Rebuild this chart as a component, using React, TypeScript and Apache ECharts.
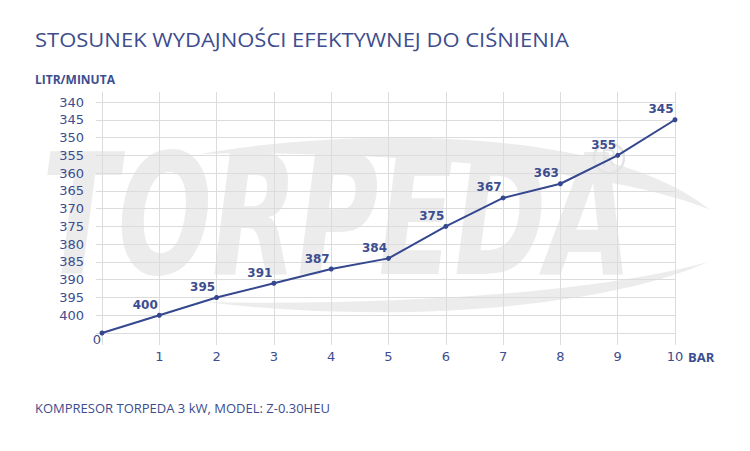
import React, { useEffect, useRef } from "react";
import * as echarts from "echarts";

const pressures = [0, 1, 2, 3, 4, 5, 6, 7, 8, 9, 10];
const flows = [405, 400, 395, 391, 387, 384, 375, 367, 363, 355, 345];
const titleText = "STOSUNEK WYDAJNOŚCI EFEKTYWNEJ DO CIŚNIENIA";
const yName = "LITR/MINUTA";
const xName = "BAR";
const footer = "KOMPRESOR TORPEDA 3 kW, MODEL: Z-0.30HEU";

const NAVY = "#34478f";
const TEXT = "#3d4d8e";
const GRID = "#dcdcdc";
const WM = "#ececec";
const NUMFONT = "DejaVu Sans";

echarts.graphic.registerShape(
  "swooshTop",
  echarts.graphic.extendPath(
    "M200 154 C 360 126, 610 128, 710 210 C 620 172, 400 150, 200 154 Z",
    {}
  )
);
echarts.graphic.registerShape(
  "swooshBottom",
  echarts.graphic.extendPath(
    "M205 302 C 400 326, 610 306, 708 262 C 600 292, 400 306, 205 302 Z",
    {}
  )
);
echarts.graphic.registerShape(
  "regR",
  echarts.graphic.extendPath(
    "M-5 8 L-5 -8 L1 -8 C6 -8 6 0 1 0 L-5 0 M0 0 L5 8",
    {}
  )
);

export default function App() {
  const ref = useRef<HTMLDivElement>(null);
  useEffect(() => {
    if (!ref.current) return;
    const chart = echarts.init(ref.current, null, { renderer: "svg" });
    chart.setOption({
      animation: false,
      backgroundColor: "#ffffff",
      textStyle: { fontFamily: "Open Sans" },
      graphic: [
        { type: "swooshTop", x: 0, y: 0, z: -10, style: { fill: WM } },
        { type: "swooshBottom", x: 0, y: 0, z: -10, style: { fill: WM } },
        {
          type: "text",
          x: 42,
          y: 300,
          scaleX: 0.66,
          z: -10,
          style: {
            text: "TORPEDA",
            font: "italic bold 168px 'DejaVu Sans'",
            fill: WM,
            align: "left",
            verticalAlign: "bottom",
          },
        },
        {
          type: "circle",
          z: -10,
          shape: { cx: 609, cy: 158, r: 15 },
          style: { fill: "none", stroke: "#e4e4e4", lineWidth: 2.5 },
        },
        {
          type: "regR",
          z: -10,
          x: 609,
          y: 158,
          style: { fill: "none", stroke: "#e4e4e4", lineWidth: 2 },
        },
        {
          type: "text",
          x: 35,
          y: 39,
          scaleX: 1.1,
          style: {
            text: titleText,
            font: "400 20px 'Open Sans'",
            fill: TEXT,
            align: "left",
            verticalAlign: "middle",
          },
        },
        {
          type: "text",
          x: 35,
          y: 79,
          style: {
            text: yName,
            font: "bold 12px 'Open Sans'",
            fill: TEXT,
            align: "left",
            verticalAlign: "middle",
          },
        },
        {
          type: "text",
          x: 688,
          y: 357,
          style: {
            text: xName,
            font: "bold 13px 'Open Sans'",
            fill: TEXT,
            align: "left",
            verticalAlign: "middle",
          },
        },
        {
          type: "text",
          x: 97,
          y: 339,
          style: {
            text: "0",
            font: `400 13px '${NUMFONT}'`,
            fill: TEXT,
            align: "center",
            verticalAlign: "middle",
          },
        },
        {
          type: "text",
          x: 35,
          y: 408,
          style: {
            text: footer,
            font: "400 13px 'Open Sans'",
            fill: TEXT,
            align: "left",
            verticalAlign: "middle",
          },
        },
      ],
      grid: { left: 102, right: 75, top: 102, bottom: 118, containLabel: false },
      xAxis: [
        {
          type: "value",
          min: 0,
          max: 10,
          interval: 1,
          position: "bottom",
          axisLine: { show: false },
          axisTick: { show: true, length: 12, lineStyle: { color: GRID } },
          axisLabel: {
            color: TEXT,
            fontSize: 13,
            fontFamily: NUMFONT,
            margin: 17,
            formatter: (v: number) => (v === 0 ? "" : String(v)),
          },
          splitLine: { show: true, lineStyle: { color: GRID } },
        },
        {
          type: "value",
          min: 0,
          max: 10,
          interval: 1,
          position: "top",
          axisLine: { show: false },
          axisTick: { show: true, length: 10, lineStyle: { color: GRID } },
          axisLabel: { show: false },
          splitLine: { show: false },
        },
      ],
      yAxis: [
        {
          type: "value",
          inverse: true,
          min: 340,
          max: 405,
          interval: 5,
          position: "left",
          axisLine: { show: false },
          axisTick: { show: true, length: 6, lineStyle: { color: GRID } },
          axisLabel: {
            color: TEXT,
            fontSize: 13,
            fontFamily: NUMFONT,
            margin: 18,
            formatter: (v: number) => (v === 405 ? "" : String(v)),
          },
          splitLine: { show: true, lineStyle: { color: GRID } },
        },
        {
          type: "value",
          inverse: true,
          min: 340,
          max: 405,
          interval: 5,
          position: "right",
          axisLine: { show: false },
          axisTick: { show: true, length: 8, lineStyle: { color: GRID } },
          axisLabel: { show: false },
          splitLine: { show: false },
        },
      ],
      series: [
        {
          type: "line",
          data: pressures.map((p, i) => [p, flows[i]]),
          symbol: "circle",
          symbolSize: 5,
          showSymbol: true,
          lineStyle: { color: NAVY, width: 2 },
          itemStyle: { color: NAVY },
          label: {
            show: true,
            position: "top",
            offset: [-14, 3],
            color: TEXT,
            fontSize: 12,
            fontFamily: NUMFONT,
            fontWeight: "bold",
            formatter: (p: any) => (p.dataIndex === 0 ? "" : String(p.value[1])),
          },
          z: 5,
        },
      ],
    });
    return () => chart.dispose();
  }, []);
  return (
    <div
      ref={ref}
      style={{ position: "absolute", left: 0, top: 0, width: 750, height: 451 }}
    />
  );
}
